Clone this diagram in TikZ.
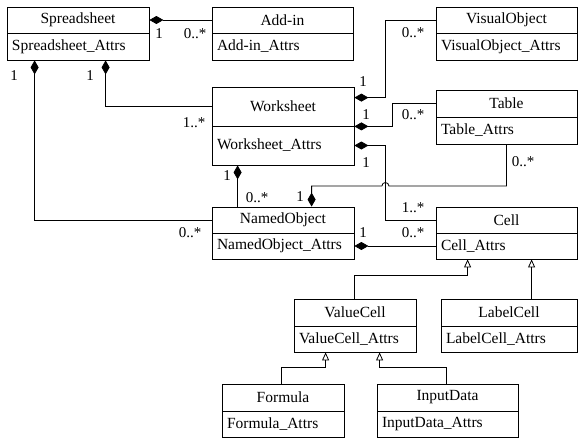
\documentclass[tikz,border=0pt]{standalone}
\usepackage{fontspec}
\setmainfont{Liberation Serif}
\usetikzlibrary{arrows.meta}
\newcommand{\umlcls}[8]{%
  \node[clsbox, minimum width={(#3-#2)*1pt}, minimum height={(#5-#4)*1pt}, inner sep=0pt]
    (#1) at ({(#2+#3)/2},{(#4+#5)/2}) {#7};
  \node[clsbox, minimum width={(#3-#2)*1pt}, minimum height={(#6-#5)*1pt}, inner xsep=5pt, inner ysep=0pt,
    text width={(#3-#2-10)*1pt}, align=left]
    (#1-a) at ({(#2+#3)/2},{(#5+#6)/2}) {#8};
}
\tikzset{
  clsbox/.style={draw, line width=0.8pt, rectangle, font=\fontsize{15.5pt}{18pt}\selectfont},
  conn/.style={line width=0.8pt},
  comp/.style={conn, {Diamond[length=14pt,width=8pt]}-},
  gen/.style={conn, -{Triangle[open,length=8pt,width=7pt]}},
  lbl/.style={font=\fontsize{15pt}{18pt}\selectfont, inner sep=0pt}
}
\begin{document}
\begin{tikzpicture}[x=1pt,y=-1pt]
\useasboundingbox (0,0) rectangle (578,439);
\umlcls{ss}{7}{149}{7}{33}{60}{Spreadsheet}{Spreadsheet\_Attrs}
\umlcls{ad}{212}{353}{7}{33}{60}{Add-in}{Add-in\_Attrs}
\umlcls{vo}{436}{577}{7}{33}{60}{VisualObject}{VisualObject\_Attrs}
\umlcls{ws}{212}{354}{87}{126}{165}{Worksheet}{Worksheet\_Attrs}
\umlcls{tb}{436}{577}{90}{117}{144}{Table}{Table\_Attrs}
\umlcls{no}{212}{354}{207}{233}{259}{NamedObject}{NamedObject\_Attrs}
\umlcls{ce}{436}{577}{207}{233}{259}{Cell}{Cell\_Attrs}
\umlcls{vc}{294}{416}{299}{326}{352}{ValueCell}{ValueCell\_Attrs}
\umlcls{lc}{441}{577}{299}{326}{352}{LabelCell}{LabelCell\_Attrs}
\umlcls{fo}{222}{344}{384}{411}{437}{Formula}{Formula\_Attrs}
\umlcls{id}{377}{518}{384}{411}{437}{InputData}{InputData\_Attrs}

% compositions
\draw[comp] (ss.east) -- (ad.west);
\draw[comp] ([xshift=99pt]ss-a.south west) |- (ws.west);
\draw[comp] ([xshift=28pt]ss-a.south west) |- (no.west);
\draw[comp] ([yshift=-11pt]ws.north east) -- ++(31,0) |- (vo.west);
\draw[comp] (ws.south east) -- ++(38,0) |- (tb.west);
\draw[comp] (ws-a.east) -- ++(31,0) |- (ce.west);
\coordinate (hopc) at ([xshift=31pt,yshift=-40.5pt]ws-a.east);
\draw[comp] ([xshift=100pt]no.north west) |- ([xshift=-3.5pt]hopc)
  arc[start angle=180,end angle=0,radius=3.5pt] -| (tb-a.south);
\draw[comp] ([xshift=26pt]ws-a.south west) -- ([xshift=26pt]no.north west);
\draw[comp] (no-a.east) -- (ce-a.west);

% generalizations
\draw[gen] ([xshift=61pt]vc.north west) -- ++(0,-23) -| ([xshift=32pt]ce-a.south west);
\draw[gen] ([xshift=91pt]lc.north west) -- ([xshift=96pt]ce-a.south west);
\draw[gen] ([xshift=60pt]fo.north west) -- ++(0,-16) -| ([xshift=32pt]vc-a.south west);
\draw[gen] ([xshift=70pt]id.north west) -- ++(0,-16) -| ([xshift=86pt]vc-a.south west);

% multiplicities
\node[lbl] (m1) at (159,34) {1};
\node[lbl] (m2) at (195,34) {0..*};
\node[lbl] (m3) at (14,76) {1};
\node[lbl] (m4) at (90,76) {1};
\node[lbl] (m5) at (194,123) {1..*};
\node[lbl] (m6) at (227,176) {1};
\node[lbl] (m7) at (257,198) {0..*};
\node[lbl] (m8) at (190,233) {0..*};
\node[lbl] (m9) at (300,197) {1};
\node[lbl] (m10) at (363,82) {1};
\node[lbl] (m11) at (413,33) {0..*};
\node[lbl] (m12) at (366,115) {1};
\node[lbl] (m13) at (413,115) {0..*};
\node[lbl] (m14) at (366,163) {1};
\node[lbl] (m15) at (523,162) {0..*};
\node[lbl] (m16) at (413,208) {1..*};
\node[lbl] (m17) at (363,233) {1};
\node[lbl] (m18) at (413,233) {0..*};
\end{tikzpicture}
\end{document}
